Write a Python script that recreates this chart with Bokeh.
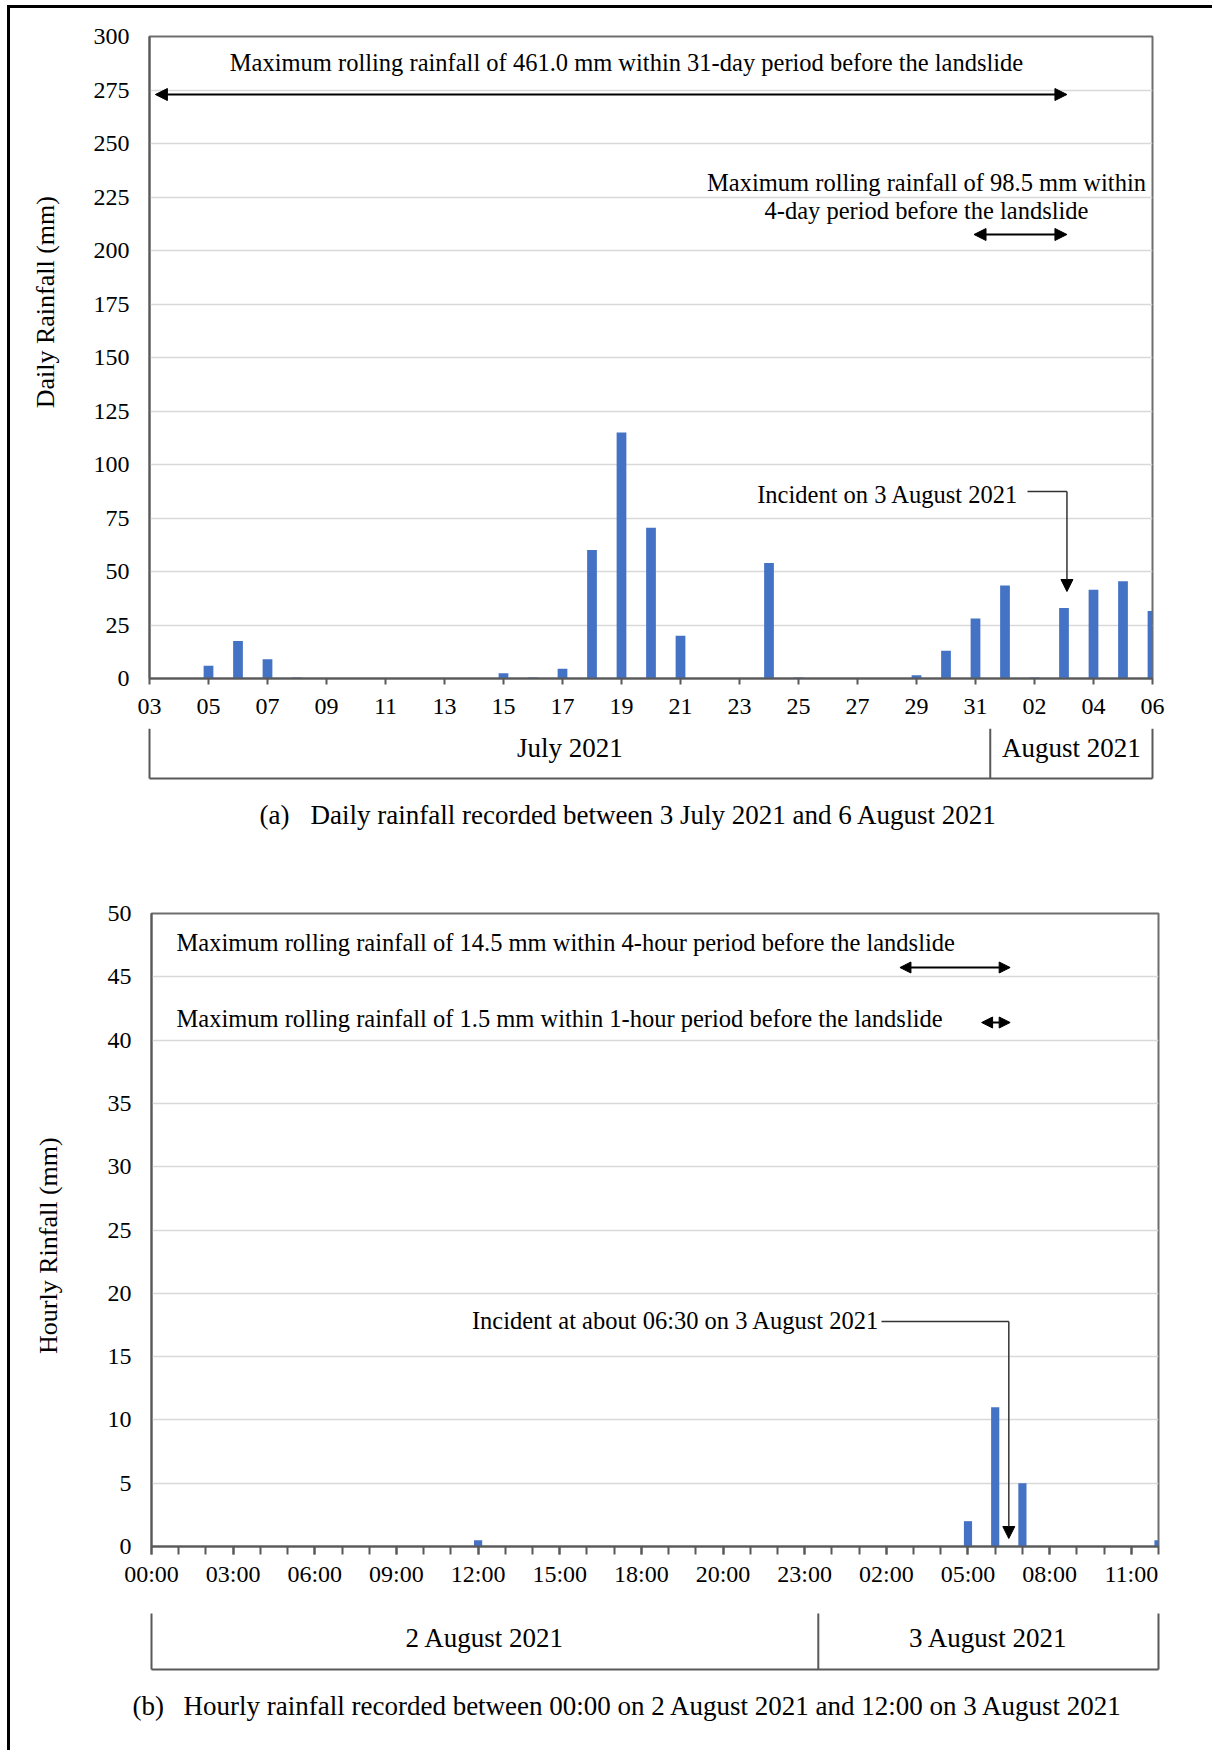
from math import pi
from bokeh.plotting import figure
from bokeh.models import ColumnDataSource, Range1d, FixedTicker, Label, Arrow, NormalHead
from bokeh.layouts import column, row
from bokeh.embed import file_html
from bokeh.resources import INLINE

# ---------------- data ----------------
day_labels = ["03", "04", "05", "06", "07", "08", "09", "10", "11", "12", "13", "14",
              "15", "16", "17", "18", "19", "20", "21", "22", "23", "24", "25", "26",
              "27", "28", "29", "30", "31", "01", "02", "03", "04", "05", "06"]
daily_rain = [0, 0, 6, 17.5, 9, 0.5, 0, 0, 0, 0, 0, 0,
              2.5, 0.5, 4.5, 60, 115, 70.5, 20, 0, 0, 54, 0.5, 0,
              0, 0, 1.5, 13, 28, 43.5, 0.5, 33, 41.5, 45.5, 31.5]
month_names = ["July 2021", "August 2021"]
month_day_counts = [29, 6]
daily_incident_index = 31  # 3 August 2021

hour_tick_labels = ["00:00", "03:00", "06:00", "09:00", "12:00", "15:00", "18:00",
                    "20:00", "23:00", "02:00", "05:00", "08:00", "11:00"]
hourly_rain = [0, 0, 0, 0, 0, 0, 0, 0, 0, 0, 0, 0, 0.5, 0, 0, 0, 0, 0, 0,
               0, 0, 0, 0, 0, 0, 0, 0, 0, 0, 0, 2, 11, 5, 0, 0, 0, 0, 0.5]
day_names = ["2 August 2021", "3 August 2021"]
day_hour_counts = [25, 13]
hourly_incident_pos = 31.5  # about 06:30 on 3 August 2021

FONT = "Liberation Serif"
BAR = "#4472C4"
GRID = "#D9D9D9"
AXIS = "#595959"
OX, OY = 10, 8          # page position of the content (inside the border)
RIGHT = 1212            # page x where figures end
LW = 70                 # width of the y-title strip
W = RIGHT - OX


def style(p, x_tick_out, x_standoff):
    p.background_fill_color = "white"
    p.border_fill_color = "white"
    p.outline_line_color = "#6E6E6E"
    p.outline_line_width = 2
    p.xgrid.visible = False
    p.ygrid.grid_line_color = GRID
    p.ygrid.grid_line_width = 1.5
    for a in list(p.xaxis) + list(p.yaxis):
        a.major_label_text_font = FONT
        a.major_label_text_font_size = "24px"
        a.major_label_text_color = "black"
        a.axis_line_color = AXIS
        a.axis_line_width = 2
        a.major_tick_line_color = AXIS
        a.major_tick_line_width = 2
        a.minor_tick_line_color = AXIS
        a.minor_tick_line_width = 2
        a.major_tick_in = 0
        a.minor_tick_in = 0
    p.yaxis.major_tick_out = 0
    p.yaxis.minor_tick_out = 0
    p.yaxis.major_label_standoff = 20
    p.xaxis.major_tick_out = x_tick_out
    p.xaxis.minor_tick_out = x_tick_out
    p.xaxis.major_label_standoff = x_standoff


def blank(width, height, xr, yr):
    p = figure(width=width, height=height, x_range=xr, y_range=yr,
               x_axis_location=None, y_axis_location=None, toolbar_location=None,
               output_backend="svg", min_border=0)
    p.outline_line_color = None
    p.background_fill_color = "white"
    p.border_fill_color = "white"
    p.xgrid.visible = False
    p.ygrid.visible = False
    for g in p.grid:
        g.visible = False
    return p


def text(p, s, x, y, size="24.5px", align="center", angle=0):
    p.add_layout(Label(x=x, y=y, text=s, text_font=FONT, text_font_size=size,
                       text_color="black", text_align=align, text_baseline="middle",
                       angle=angle))


def seg(p, x0, y0, x1, y1, color="#333333", width=1.5):
    p.add_layout(Arrow(x_start=x0, y_start=y0, x_end=x1, y_end=y1, start=None, end=None,
                       line_color=color, line_width=width))


def darrow(p, x0, x1, y, size=12):
    p.add_layout(Arrow(x_start=x0, y_start=y, x_end=x1, y_end=y,
                       start=NormalHead(size=size, fill_color="black", line_color="black"),
                       end=NormalHead(size=size, fill_color="black", line_color="black"),
                       line_color="black", line_width=2))


def brackets(p, counts, names, y_top, y_bot, y_text):
    n = sum(counts)
    edges = [0]
    c = 0
    for k in counts:
        c += k
        edges.append(min(c - 0.5, n - 1))
    xs0 = [edges[0]] + edges
    ys0 = [y_bot] + [y_top] * len(edges)
    xs1 = [edges[-1]] + edges
    ys1 = [y_bot] * (len(edges) + 1)
    p.segment(x0=xs0, y0=ys0, x1=xs1, y1=ys1, line_color=AXIS, line_width=2)
    for i, nm in enumerate(names):
        text(p, nm, (edges[i] + edges[i + 1]) / 2, y_text, size="27px")


# ================= panel (a) =================
A_BOTTOM = 728
A_H = A_BOTTOM - OY
A_FL, A_FR, A_FT, A_FB = 149, 1152, 36, 678
NA = len(daily_rain) - 1


def axp(px):
    return (px - A_FL) / (A_FR - A_FL) * NA


def ayp(py):
    return (A_FB - py) / (A_FB - A_FT) * 300


pa = figure(width=W - LW, height=A_H, x_range=Range1d(0, NA), y_range=Range1d(0, 300),
            output_backend="svg", toolbar_location=None,
            min_border_left=A_FL - (OX + LW), min_border_right=RIGHT - A_FR,
            min_border_top=A_FT - OY, min_border_bottom=A_BOTTOM - A_FB)
src_a = ColumnDataSource(dict(x=list(range(len(daily_rain))), rain=daily_rain))
pa.vbar(x="x", top="rain", width=0.33, source=src_a, fill_color=BAR, line_color=None)
style(pa, 6, 14)
pa.yaxis.ticker = FixedTicker(ticks=list(range(0, 301, 25)))
pa.xaxis.ticker = FixedTicker(ticks=list(range(0, len(day_labels), 2)), minor_ticks=[])
pa.xaxis.major_label_overrides = {i: day_labels[i] for i in range(0, len(day_labels), 2)}

text(pa, "Maximum rolling rainfall of 461.0 mm within 31-day period before the landslide",
     axp(626), ayp(62))
darrow(pa, 0.2, daily_incident_index + 0.1, ayp(94))
text(pa, "Maximum rolling rainfall of 98.5 mm within", axp(926), ayp(182))
text(pa, "4-day period before the landslide", axp(926), ayp(210))
darrow(pa, daily_incident_index - 3.05, daily_incident_index + 0.1, ayp(234))
text(pa, "Incident on 3 August 2021", axp(1018), ayp(494), align="right")
seg(pa, axp(1027), ayp(491), daily_incident_index + 0.1, ayp(491))
pa.add_layout(Arrow(x_start=daily_incident_index + 0.1, y_start=ayp(491),
                    x_end=daily_incident_index + 0.1, y_end=ayp(591),
                    start=None, end=NormalHead(size=12, fill_color="black", line_color="black"),
                    line_color="#333333", line_width=1.5))

# y title strip (a)
la = blank(LW, A_H, Range1d(OX, OX + LW), Range1d(A_BOTTOM, OY))
text(la, "Daily Rainfall (mm)", 45, 306, size="26px", angle=pi / 2)

# brackets + caption (a)
BA_TOP, BA_BOT = A_BOTTOM, 860
ba = blank(W, BA_BOT - BA_TOP, Range1d(axp(OX), axp(RIGHT)), Range1d(BA_BOT, BA_TOP))
brackets(ba, month_day_counts, month_names, BA_TOP, 778, 747)
text(ba, "(a)", axp(259), 814, size="27px", align="left")
text(ba, "Daily rainfall recorded between 3 July 2021 and 6 August 2021",
     axp(310), 814, size="27px", align="left")

# ================= panel (b) =================
B_TOP, B_BOTTOM = BA_BOT, 1590
B_H = B_BOTTOM - B_TOP
B_FL, B_FR, B_FT, B_FB = 151, 1158, 913, 1546
NB = len(hourly_rain) - 1


def bxp(px):
    return (px - B_FL) / (B_FR - B_FL) * NB


def byp(py):
    return (B_FB - py) / (B_FB - B_FT) * 50


pb = figure(width=W - LW, height=B_H, x_range=Range1d(0, NB), y_range=Range1d(0, 50),
            output_backend="svg", toolbar_location=None,
            min_border_left=B_FL - (OX + LW), min_border_right=RIGHT - B_FR,
            min_border_top=B_FT - B_TOP, min_border_bottom=B_BOTTOM - B_FB)
src_b = ColumnDataSource(dict(x=list(range(len(hourly_rain))), rain=hourly_rain))
pb.vbar(x="x", top="rain", width=0.3, source=src_b, fill_color=BAR, line_color=None)
style(pb, 8, 6)
pb.yaxis.ticker = FixedTicker(ticks=list(range(0, 51, 5)))
major_b = [3 * i for i in range(len(hour_tick_labels))]
pb.xaxis.ticker = FixedTicker(ticks=major_b, minor_ticks=list(range(len(hourly_rain))))
pb.xaxis.major_label_overrides = {t: lab for t, lab in zip(major_b, hour_tick_labels)}

text(pb, "Maximum rolling rainfall of 14.5 mm within 4-hour period before the landslide",
     bxp(176), byp(942), align="left")
darrow(pb, hourly_incident_pos - 4, hourly_incident_pos + 0.05, byp(967), size=11)
text(pb, "Maximum rolling rainfall of 1.5 mm within 1-hour period before the landslide",
     bxp(176), byp(1018), align="left")
darrow(pb, hourly_incident_pos - 1, hourly_incident_pos + 0.05, byp(1022), size=11)
text(pb, "Incident at about 06:30 on 3 August 2021", bxp(879), byp(1320), align="right")
seg(pb, bxp(881), byp(1321), hourly_incident_pos, byp(1321))
pb.add_layout(Arrow(x_start=hourly_incident_pos, y_start=byp(1321),
                    x_end=hourly_incident_pos, y_end=byp(1538),
                    start=None, end=NormalHead(size=12, fill_color="black", line_color="black"),
                    line_color="#333333", line_width=1.5))

# y title strip (b)
lb = blank(LW, B_H, Range1d(OX, OX + LW), Range1d(B_BOTTOM, B_TOP))
text(lb, "Hourly Rinfall (mm)", 48, 1243, size="26px", angle=pi / 2)

# brackets + caption (b)
BB_TOP, BB_BOT = B_BOTTOM, 1750
bb = blank(W, BB_BOT - BB_TOP, Range1d(bxp(OX), bxp(RIGHT)), Range1d(BB_BOT, BB_TOP))
brackets(bb, day_hour_counts, day_names, 1613, 1669, 1637)
text(bb, "(b)", bxp(132), 1705, size="27px", align="left")
text(bb, "Hourly rainfall recorded between 00:00 on 2 August 2021 and 12:00 on 3 August 2021",
     bxp(183), 1705, size="27px", align="left")

layout = column(row(la, pa), ba, row(lb, pb), bb,
                margin=(5, 0, 0, 7),
                styles={"border-top": "3px solid black", "border-left": "3px solid black"})
open("out.html", "w").write(file_html(layout, INLINE))
